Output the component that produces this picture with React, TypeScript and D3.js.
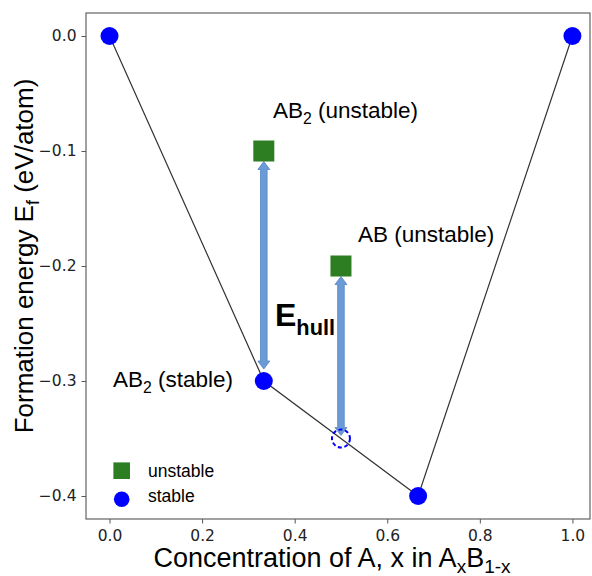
import React, { useEffect, useRef } from "react";
import * as d3 from "d3";

// Convex hull of formation energies for the A–B system
const hullX = [0, 1 / 3, 2 / 3, 1];
const hullE = [0.0, -0.3, -0.4, 0.0];

// Stable compounds (on the hull)
const stableX = [0, 1 / 3, 2 / 3, 1];
const stableE = [0.0, -0.3, -0.4, 0.0];

// Unstable compounds (above the hull)
const unstableX = [1 / 3, 0.5];
const unstableE = [-0.1, -0.2];

// Hull energy at the unstable AB composition (projection onto the hull)
const projX = [0.5];
const projE = [-0.35];

// E_hull arrows: from an unstable compound down to the hull
const arrowX = [1 / 3, 0.5];
const arrowFrom = [-0.1, -0.2];
const arrowTo = [-0.3, -0.35];
const arrowShrinkEnd = [12, 3];

const xTicks = [0, 0.2, 0.4, 0.6, 0.8, 1.0];
const yTicks = [0, -0.1, -0.2, -0.3, -0.4];

const W = 592;
const H = 576;
const left = 86;
const right = 590;
const top = 13;
const bottom = 519;

const BLUE = "#0000ff";
const GREEN = "#2d7d23";
const ARROW = "#6b9bd6";
const ARROW_EDGE = "#5585c4";
const SANS = "'Liberation Sans', Arial, Helvetica, sans-serif";
const TICKFONT = "'DejaVu Sans', sans-serif";

export default function App() {
  const ref = useRef<SVGSVGElement | null>(null);

  useEffect(() => {
    const svg = d3.select(ref.current);
    svg.selectAll("*").remove();

    const x = d3.scaleLinear().domain([-0.0508, 1.038]).range([left, right]);
    const y = d3.scaleLinear().domain([-0.42, 0.02]).range([bottom, top]);

    svg.append("rect").attr("width", W).attr("height", H).attr("fill", "#fff");

    // Axes
    const fmt = d3.format(".1f");
    const xAxis = svg
      .append("g")
      .attr("transform", `translate(0,${bottom})`)
      .call(d3.axisBottom(x).tickValues(xTicks).tickFormat((d) => fmt(d as number)).tickSize(4.5).tickPadding(6));
    const yAxis = svg
      .append("g")
      .attr("transform", `translate(${left},0)`)
      .call(d3.axisLeft(y).tickValues(yTicks).tickFormat((d) => fmt(d as number)).tickSize(4.5).tickPadding(5));
    [xAxis, yAxis].forEach((g) => {
      g.select(".domain").remove();
      g.selectAll("line").attr("stroke", "#555").attr("stroke-width", 1);
      g.selectAll("text").attr("fill", "#222").style("font-family", TICKFONT).style("font-size", "15.5px");
    });

    // Frame
    svg
      .append("rect")
      .attr("x", left)
      .attr("y", top)
      .attr("width", right - left)
      .attr("height", bottom - top)
      .attr("fill", "none")
      .attr("stroke", "#555")
      .attr("stroke-width", 1.1);

    // Hull line
    const line = d3
      .line<number>()
      .x((_, i) => x(hullX[i]))
      .y((d) => y(d));
    svg.append("path").attr("d", line(hullE)).attr("fill", "none").attr("stroke", "#333").attr("stroke-width", 1.2);

    // E_hull arrows (double-headed)
    const shaft = 3.3;
    const headW = 6;
    const headL = 8;
    arrowX.forEach((ax, i) => {
      const cx = x(ax);
      const y0 = y(arrowFrom[i]) + 10.5;
      const y1 = y(arrowTo[i]) - arrowShrinkEnd[i];
      const p = d3.path();
      p.moveTo(cx, y0);
      p.lineTo(cx + headW, y0 + headL);
      p.lineTo(cx + shaft, y0 + headL);
      p.lineTo(cx + shaft, y1 - headL);
      p.lineTo(cx + headW, y1 - headL);
      p.lineTo(cx, y1);
      p.lineTo(cx - headW, y1 - headL);
      p.lineTo(cx - shaft, y1 - headL);
      p.lineTo(cx - shaft, y0 + headL);
      p.lineTo(cx - headW, y0 + headL);
      p.closePath();
      svg
        .append("path")
        .attr("d", p.toString())
        .attr("fill", ARROW)
        .attr("stroke", ARROW_EDGE)
        .attr("stroke-width", 0.8)
        .attr("stroke-linejoin", "miter");
    });

    // Unstable compounds
    svg
      .selectAll("rect.unstable")
      .data(unstableE)
      .join("rect")
      .attr("class", "unstable")
      .attr("x", (_, i) => x(unstableX[i]) - 10.5)
      .attr("y", (d) => y(d) - 10.5)
      .attr("width", 21)
      .attr("height", 21)
      .attr("fill", GREEN);

    // Stable compounds
    svg
      .selectAll("circle.stable")
      .data(stableE)
      .join("circle")
      .attr("class", "stable")
      .attr("cx", (_, i) => x(stableX[i]))
      .attr("cy", (d) => y(d))
      .attr("r", 9)
      .attr("fill", BLUE);

    // Projected hull point
    svg
      .selectAll("circle.proj")
      .data(projE)
      .join("circle")
      .attr("class", "proj")
      .attr("cx", (_, i) => x(projX[i]))
      .attr("cy", (d) => y(d))
      .attr("r", 9)
      .attr("fill", "none")
      .attr("stroke", BLUE)
      .attr("stroke-width", 2)
      .attr("stroke-dasharray", "4,2.6");

    // Annotations
    const annot = (tx: number, ty: number, parts: [string, boolean][], size: number, weight = "normal", subScale = 0.7) => {
      const t = svg
        .append("text")
        .attr("x", tx)
        .attr("y", ty)
        .style("font-family", SANS)
        .style("font-size", `${size}px`)
        .style("font-weight", weight)
        .attr("fill", "#000");
      let wasSub = false;
      parts.forEach(([s, sub]) => {
        const ts = t.append("tspan").text(s);
        if (sub) {
          ts.style("font-size", `${size * subScale}px`).attr("dy", size * 0.28);
          wasSub = true;
        } else if (wasSub) {
          ts.attr("dy", -size * 0.28);
          wasSub = false;
        }
      });
      return t;
    };

    annot(273, 118, [["AB", false], ["2", true], [" (unstable)", false]], 22.5);
    annot(358, 242, [["AB (unstable)", false]], 22.5);
    annot(113, 387, [["AB", false], ["2", true], [" (stable)", false]], 22.5);
    annot(275, 326, [["E", false], ["hull", true]], 32, "bold", 0.68);

    // Legend
    const lg = svg.append("g");
    lg.append("rect").attr("x", 121.7 - 8.3).attr("y", 470.7 - 8.3).attr("width", 16.6).attr("height", 16.6).attr("fill", GREEN);
    lg.append("circle").attr("cx", 121.7).attr("cy", 499.3).attr("r", 7.8).attr("fill", BLUE);
    lg.append("text").attr("x", 148).attr("y", 477).text("unstable").style("font-family", SANS).style("font-size", "17.5px");
    lg.append("text").attr("x", 148).attr("y", 502).text("stable").style("font-family", SANS).style("font-size", "17.5px");

    // Axis titles
    const xl = svg
      .append("text")
      .attr("x", 332)
      .attr("y", 567)
      .attr("text-anchor", "middle")
      .style("font-family", SANS)
      .style("font-size", "27px");
    xl.append("tspan").text("Concentration of A, x in A");
    xl.append("tspan").text("x").style("font-size", "19px").attr("dy", 6);
    xl.append("tspan").text("B").attr("dy", -6);
    xl.append("tspan").text("1-x").style("font-size", "19px").attr("dy", 6);

    const yl = svg
      .append("text")
      .attr("transform", `translate(33,256) rotate(-90)`)
      .attr("text-anchor", "middle")
      .style("font-family", SANS)
      .style("font-size", "26px");
    yl.append("tspan").text("Formation energy E");
    yl.append("tspan").text("f").style("font-size", "18px").attr("dy", 6);
    yl.append("tspan").text(" (eV/atom)").attr("dy", -6);
  }, []);

  return (
    <svg
      ref={ref}
      width={W}
      height={H}
      style={{ position: "absolute", left: 0, top: 0, display: "block" }}
    />
  );
}
